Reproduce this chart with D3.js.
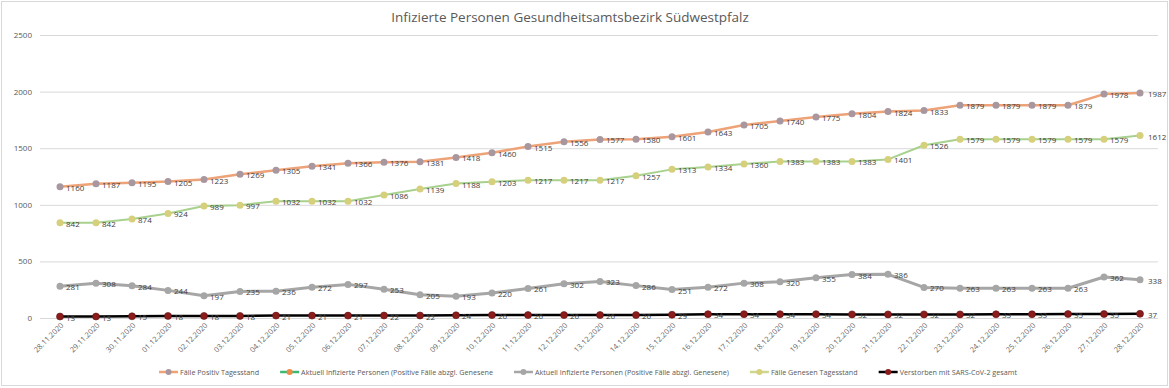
<!DOCTYPE html>
<html>
<head>
<meta charset="utf-8">
<script src="https://cdn.jsdelivr.net/npm/d3@7"></script>
<style>
  body { margin: 0; background: #fff; }
  text { font-family: "Open Sans", "Noto Sans", sans-serif; }
</style>
</head>
<body>
<div id="chart"></div>
<script>
// dates on the x axis
const dates = ["28.11.2020","29.11.2020","30.11.2020","01.12.2020","02.12.2020","03.12.2020","04.12.2020",
    "05.12.2020","06.12.2020","07.12.2020","08.12.2020","09.12.2020","10.12.2020","11.12.2020","12.12.2020",
    "13.12.2020","14.12.2020","15.12.2020","16.12.2020","17.12.2020","18.12.2020","19.12.2020","20.12.2020",
    "21.12.2020","22.12.2020","23.12.2020","24.12.2020","25.12.2020","26.12.2020","27.12.2020","28.12.2020"];

const positiv = [1160,1187,1195,1205,1223,1269,1305,1341,1366,1376,1381,1418,1460,1515,1556,1577,1580,1601,
    1643,1705,1740,1775,1804,1824,1833,1879,1879,1879,1879,1978,1987];
const genesen = [842,842,874,924,989,997,1032,1032,1032,1086,1139,1188,1203,1217,1217,1217,1257,1313,1334,
    1360,1383,1383,1383,1401,1526,1579,1579,1579,1579,1579,1612];
const aktuell = [281,308,284,244,197,235,236,272,297,253,205,193,220,261,302,323,286,251,272,308,320,355,
    384,386,270,263,263,263,263,362,338];
const verstorben = [13,13,15,18,18,18,21,21,21,22,22,24,26,26,26,26,26,29,34,34,34,34,32,32,32,32,33,33,
    35,35,37];

const yTicks = [0, 500, 1000, 1500, 2000, 2500];

const legendItems = [
    { name: "Fälle Positiv Tagesstand", line: "#eda277", dot: "#a8979f" },
    { name: "Aktuell Infizierte Personen (Positive Fälle abzgl. Genesene", line: "#3cba74", dot: "#ed8a45" },
    { name: "Aktuell Infizierte Personen (Positive Fälle abzgl. Genesene)", line: "#a6a6a6", dot: "#a6a6a6" },
    { name: "Fälle Genesen Tagesstand", line: "#cfd68e", dot: "#d6d07c" },
    { name: "Verstorben mit SARS-CoV-2 gesamt", line: "#000000", dot: "#8c1c1c" }
];

// series drawn in the plot
const series = [
    { values: aktuell, line: "#a6a6a6", dot: "#a6a6a6", width: 3 },
    { values: genesen, line: "#a9d18e", dot: "#d6d07c", width: 2 },
    { values: positiv, line: "#eda277", dot: "#a8979f", width: 2.5 },
    { values: verstorben, line: "#000000", dot: "#8c1c1c", width: 2.5, stroke: "#5a1010" }
];

const W = 1169, H = 388;
const svg = d3.select("#chart").append("svg")
    .attr("width", W)
    .attr("height", H);

// outer border
svg.append("rect")
    .attr("x", 1.5).attr("y", 1.5)
    .attr("width", W - 3).attr("height", H - 4)
    .attr("fill", "#fff")
    .attr("stroke", "#d9d9d9");

// title
svg.append("text")
    .attr("x", 570).attr("y", 22)
    .attr("text-anchor", "middle")
    .attr("font-size", "13.5px")
    .attr("fill", "#595959")
    .text("Infizierte Personen Gesundheitsamtsbezirk Südwestpfalz");

const x = d3.scaleLinear().domain([0, dates.length - 1]).range([60, 1140]);
const y = d3.scaleLinear().domain([0, 2500]).range([318, 35]);

// grid lines + y labels
const yAxis = d3.axisLeft(y).tickValues(yTicks).tickFormat(d3.format("d"))
    .tickSize(-(1158 - 40)).tickPadding(8);
const gy = svg.append("g")
    .attr("transform", "translate(40,0)")
    .call(yAxis);
gy.select(".domain").remove();
gy.selectAll(".tick line").attr("stroke", "#d9d9d9");
gy.selectAll(".tick text")
    .attr("font-size", "8px")
    .attr("fill", "#595959")
    .attr("font-family", "Open Sans, Noto Sans, sans-serif");

// x labels
svg.append("g").selectAll("text")
    .data(dates)
    .enter().append("text")
    .attr("transform", (d, i) => `translate(${x(i) + 4},${326}) rotate(-45)`)
    .attr("text-anchor", "end")
    .attr("font-size", "7.5px")
    .attr("fill", "#666666")
    .text(d => d);

const line = d3.line().x((d, i) => x(i)).y(d => y(d));

series.forEach(s => {
    const g = svg.append("g");
    g.append("path")
        .datum(s.values)
        .attr("d", line)
        .attr("fill", "none")
        .attr("stroke", s.line)
        .attr("stroke-width", s.width)
        .attr("stroke-linejoin", "round");
    g.selectAll("circle")
        .data(s.values)
        .enter().append("circle")
        .attr("cx", (d, i) => x(i))
        .attr("cy", d => y(d))
        .attr("r", 3.5)
        .attr("fill", s.dot)
        .attr("stroke", s.stroke || "none")
        .attr("stroke-width", 0.6);
});

// data labels
series.forEach(s => {
    svg.append("g").selectAll("text")
        .data(s.values)
        .enter().append("text")
        .attr("x", (d, i) => x(i) + (i === s.values.length - 1 ? 8 : 6))
        .attr("y", d => y(d) + 4)
        .attr("font-size", "8px")
        .attr("fill", "#404040")
        .text(d => d);
});

// legend, centred
const legend = svg.append("g");
let cursor = 0;
const gap = 21;
legendItems.forEach(item => {
    const g = legend.append("g").attr("transform", `translate(${cursor},0)`);
    g.append("line")
        .attr("x1", 0).attr("x2", 19)
        .attr("y1", 0).attr("y2", 0)
        .attr("stroke", item.line)
        .attr("stroke-width", 2.5);
    g.append("circle")
        .attr("cx", 9.5).attr("cy", 0).attr("r", 3)
        .attr("fill", item.dot);
    const t = g.append("text")
        .attr("x", 21).attr("y", 2.6)
        .attr("font-size", "7.2px")
        .attr("fill", "#595959")
        .text(item.name);
    cursor += 21 + t.node().getComputedTextLength() + gap;
});
cursor -= gap;
legend.attr("transform", `translate(${588 - cursor / 2},372)`);
</script>
</body>
</html>
